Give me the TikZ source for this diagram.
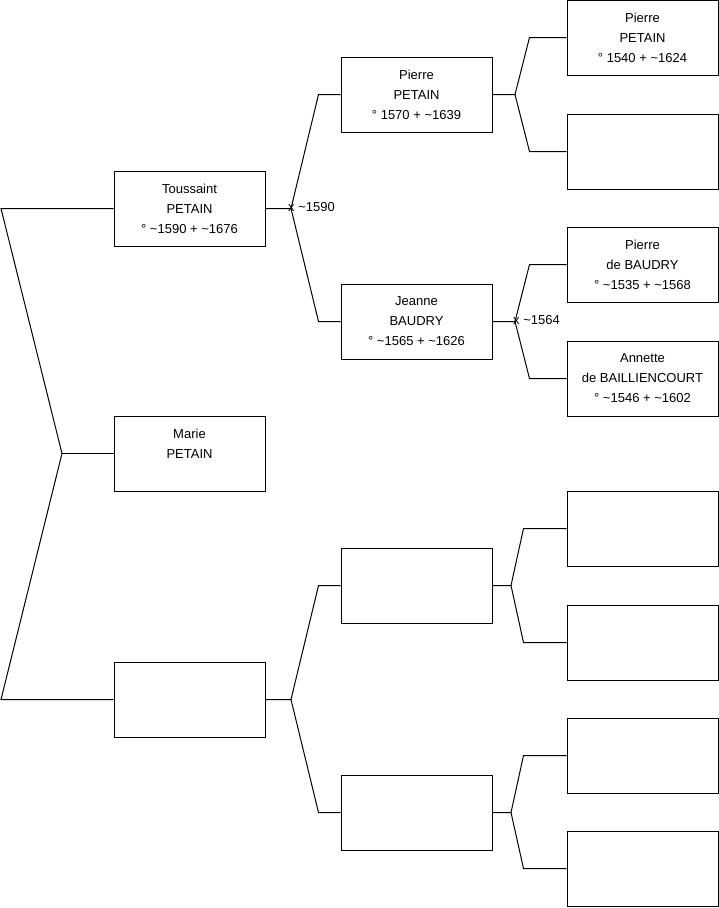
\documentclass[tikz,border=0pt]{standalone}
\usepackage{fontspec}
\setmainfont{Liberation Sans}
\begin{document}
\begin{tikzpicture}[x=1pt, y=-1pt,
  person/.style={draw=black, line width=1pt, fill=white, minimum width=151pt, minimum height=75pt, inner sep=0pt, align=center, font=\fontsize{13}{20}\selectfont},
  link/.style={draw=black, line width=1pt},
  wedding/.style={anchor=west, inner sep=0pt, font=\fontsize{13}{15}\selectfont}]

\useasboundingbox (0,0) rectangle (719,908);

% First generation
\node[person] (toussaint) at (189.5,208.5) {Toussaint\\PETAIN\\° \textasciitilde1590 + \textasciitilde1676};
\node[person] (marie) at (189.5,453.5) {Marie\\PETAIN\\\mbox{}};
\node[person] (other) at (189.5,699.5) {};

% Left bracket
\coordinate (top) at (1,208.5);
\coordinate (mid) at (62,453.5);
\coordinate (bottom) at (1,699.5);
\draw[link] (toussaint.west) -- (top) -- (mid) -- (bottom) -- (other.west);
\draw[link] (mid) -- (marie.west);

% Parents
\node[person] (pierreB) at (416.5,94.5) {Pierre\\PETAIN\\° 1570 + \textasciitilde1639};
\node[person] (jeanne) at (416.5,321.5) {Jeanne\\BAUDRY\\° \textasciitilde1565 + \textasciitilde1626};
\node[person] (otherA) at (416.5,585.5) {};
\node[person] (otherB) at (416.5,812.5) {};

\coordinate (fork1) at (291,208.5);
\draw[link] (toussaint.east) -- (fork1) -- ([xshift=-22pt]pierreB.west) -- (pierreB.west);
\draw[link] (fork1) -- ([xshift=-22pt]jeanne.west) -- (jeanne.west);
\node[wedding] (w1) at (288,207) {x \textasciitilde1590};

\coordinate (fork2) at (291,699.5);
\draw[link] (other.east) -- (fork2) -- ([xshift=-22pt]otherA.west) -- (otherA.west);
\draw[link] (fork2) -- ([xshift=-22pt]otherB.west) -- (otherB.west);

% Grandparents
\node[person] (pierreA) at (642.5,37.5) {Pierre\\PETAIN\\° 1540 + \textasciitilde1624};
\node[person] (emptyA) at (642.5,151.5) {};
\node[person] (baudry) at (642.5,264.5) {Pierre\\de BAUDRY\\° \textasciitilde1535 + \textasciitilde1568};
\node[person] (annette) at (642.5,378.5) {Annette\\de BAILLIENCOURT\\° \textasciitilde1546 + \textasciitilde1602};
\node[person] (emptyB) at (642.5,528.5) {};
\node[person] (emptyC) at (642.5,642.5) {};
\node[person] (emptyD) at (642.5,755.5) {};
\node[person] (emptyE) at (642.5,868.5) {};

\coordinate (fork3) at (515,94.5);
\draw[link] (pierreB.east) -- (fork3) -- ([xshift=-37pt]pierreA.west) -- (pierreA.west);
\draw[link] (fork3) -- ([xshift=-37pt]emptyA.west) -- (emptyA.west);

\coordinate (fork4) at (515,321.5);
\draw[link] (jeanne.east) -- (fork4) -- ([xshift=-37pt]baudry.west) -- (baudry.west);
\draw[link] (fork4) -- ([xshift=-37pt]annette.west) -- (annette.west);
\node[wedding] (w2) at (513,320) {x \textasciitilde1564};

\coordinate (fork5) at (511,585.5);
\draw[link] (otherA.east) -- (fork5) -- ([xshift=-43pt]emptyB.west) -- (emptyB.west);
\draw[link] (fork5) -- ([xshift=-43pt]emptyC.west) -- (emptyC.west);

\coordinate (fork6) at (511,812.5);
\draw[link] (otherB.east) -- (fork6) -- ([xshift=-43pt]emptyD.west) -- (emptyD.west);
\draw[link] (fork6) -- ([xshift=-43pt]emptyE.west) -- (emptyE.west);

\end{tikzpicture}
\end{document}
